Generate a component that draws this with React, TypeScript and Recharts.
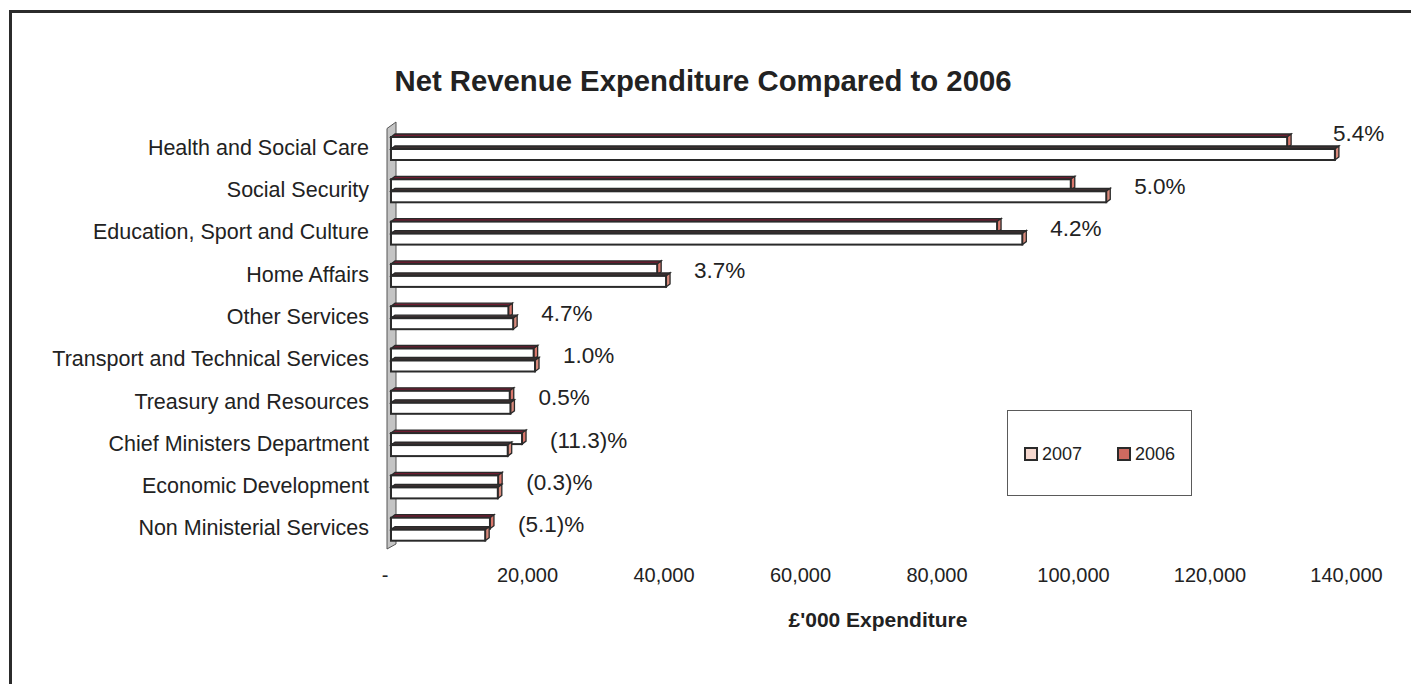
import React from "react";
import { BarChart, Bar, XAxis, YAxis, Legend, ReferenceArea, LabelList } from "recharts";

const categories = [
  "Health and Social Care",
  "Social Security",
  "Education, Sport and Culture",
  "Home Affairs",
  "Other Services",
  "Transport and Technical Services",
  "Treasury and Resources",
  "Chief Ministers Department",
  "Economic Development",
  "Non Ministerial Services",
];
const values2007 = [138300, 104800, 92500, 40300, 17900, 21100, 17500, 17100, 15650, 13800];
const values2006 = [131300, 99600, 88800, 39000, 17200, 20900, 17400, 19200, 15700, 14500];
const changeLabels = ["5.4%", "5.0%", "4.2%", "3.7%", "4.7%", "1.0%", "0.5%", "(11.3)%", "(0.3)%", "(5.1)%"];
const xTicks = [0, 20000, 40000, 60000, 80000, 100000, 120000, 140000];
const X_MAX = 140000;

const data = categories.map((name, i) => ({
  name,
  y2007: values2007[i],
  y2006: values2006[i],
  change: changeLabels[i],
}));

const FONT = '"Liberation Sans", Arial, Helvetica, sans-serif';
const DX = 4;
const DY = 3;

const make3DBar = (topFill: string, sideFill: string) => (props: any) => {
  const { x, y, width, height } = props;
  if (width == null || height == null) return <g />;
  const w = Math.max(width, 0);
  const stroke = "#2a2a2a";
  return (
    <g>
      <polygon
        points={`${x},${y + DY} ${x + DX},${y} ${x + w + DX},${y} ${x + w},${y + DY}`}
        fill={topFill}
        stroke={stroke}
        strokeWidth={1.3}
      />
      <polygon
        points={`${x + w},${y + DY} ${x + w + DX},${y} ${x + w + DX},${y + height - DY} ${x + w},${y + height}`}
        fill={sideFill}
        stroke={stroke}
        strokeWidth={1.3}
      />
      <rect x={x} y={y + DY} width={w} height={height - DY} fill="#ffffff" stroke={stroke} strokeWidth={2} />
    </g>
  );
};

const Wall = (props: any) => {
  const { x, y, height } = props;
  const l = x - 4;
  const r = x + 5;
  const pts = `${l},${y + 2.5} ${r},${y - 4} ${r},${y + height - 5} ${l},${y + height}`;
  return <polygon points={pts} fill="#c4c4c4" stroke="#555" strokeWidth={1} />;
};

const ChangeLabel = (props: any) => {
  const { x, y, width, index } = props;
  const v07 = values2007[index];
  const v06 = values2006[index];
  const pxPerUnit = width / v07;
  const end07 = x + width;
  const end06 = x + pxPerUnit * v06;
  const end = Math.max(end07, end06) + DX;
  const plotRight = x + pxPerUnit * X_MAX;
  const overflow = end + 24 + 50 > plotRight + 40;
  const lx = overflow ? end - 6 : end + 24;
  const ly = overflow ? y - 13 : y - 2;
  return (
    <text x={lx} y={ly} fontSize={22.5} fill="#222" fontFamily={FONT} dominantBaseline="central">
      {changeLabels[index]}
    </text>
  );
};

const XTick = (props: any) => {
  const { x, y, payload } = props;
  const v = payload.value;
  const label = v === 0 ? "-" : v.toLocaleString("en-US");
  return (
    <text
      x={v === 0 ? x - 6 : x}
      y={y}
      dy="0.71em"
      textAnchor="middle"
      fontSize={20}
      fill="#222"
      fontFamily={FONT}
    >
      {label}
    </text>
  );
};

const LegendBox = () => {
  const items = [
    { label: "2007", color: "#f6d8ce" },
    { label: "2006", color: "#cc6a60" },
  ];
  return (
    <div
      style={{
        width: 185,
        height: 86,
        boxSizing: "border-box",
        border: "1px solid #5a5a5a",
        background: "#fff",
        position: "relative",
        fontFamily: FONT,
        fontSize: 18,
        color: "#222",
      }}
    >
      {items.map((it, i) => (
        <div
          key={it.label}
          style={{
            position: "absolute",
            left: 16 + i * 93,
            top: 33,
            display: "flex",
            alignItems: "center",
            lineHeight: "20px",
          }}
        >
          <span
            style={{
              display: "inline-block",
              width: 10,
              height: 10,
              background: it.color,
              border: "2px solid #2a2a2a",
              marginRight: 4,
            }}
          />
          <span>{it.label}</span>
        </div>
      ))}
    </div>
  );
};

export default function App() {
  return (
    <div style={{ position: "relative", width: 1411, height: 676, overflow: "hidden", background: "#fff" }}>
      <div
        style={{
          position: "absolute",
          left: 1,
          top: 2,
          width: 3000,
          height: 3000,
          borderLeft: "3px solid #2b2b2b",
          borderTop: "3px solid #2b2b2b",
        }}
      />
      <div
        style={{
          position: "absolute",
          left: 695,
          top: 58,
          transform: "translateX(-50%)",
          fontFamily: FONT,
          fontWeight: "bold",
          fontSize: 29.3,
          lineHeight: 1,
          whiteSpace: "nowrap",
          color: "#222",
        }}
      >
        Net Revenue Expenditure Compared to 2006
      </div>
      <div
        style={{
          position: "absolute",
          left: 870,
          top: 601,
          transform: "translateX(-50%)",
          fontFamily: FONT,
          fontWeight: "bold",
          fontSize: 21,
          lineHeight: 1,
          whiteSpace: "nowrap",
          color: "#222",
        }}
      >
        £'000 Expenditure
      </div>
      <div style={{ position: "absolute", left: 0, top: 0 }}>
        <BarChart
          width={1411}
          height={676}
          data={data}
          layout="vertical"
          margin={{ top: 118, right: 72.5, bottom: 95, left: 0 }}
          barSize={14}
          barGap={-2}
        >
          <XAxis
            type="number"
            domain={[0, X_MAX]}
            ticks={xTicks}
            axisLine={false}
            tickLine={false}
            tickSize={0}
            tickMargin={19}
            height={40}
            interval={0}
            tick={<XTick />}
          />
          <YAxis
            type="category"
            dataKey="name"
            width={383}
            axisLine={false}
            tickLine={false}
            tickSize={0}
            tickMargin={22}
            interval={0}
            tick={{ fontSize: 21.5, fill: "#222", fontFamily: FONT }}
          />
          <ReferenceArea x1={0} x2={1} ifOverflow="visible" shape={<Wall />} />
          <Bar
            dataKey="y2006"
            name="2006"
            fill="#cc6a60"
            isAnimationActive={false}
            shape={make3DBar("#6e1c30", "#d9776c")}
          />
          <Bar
            dataKey="y2007"
            name="2007"
            fill="#f6d8ce"
            isAnimationActive={false}
            shape={make3DBar("#3b2f30", "#d88a7c")}
          >
            <LabelList dataKey="change" content={<ChangeLabel />} />
          </Bar>
          <Legend
            layout="horizontal"
            verticalAlign="middle"
            align="center"
            content={<LegendBox />}
            wrapperStyle={{ left: 999, top: 402, width: 185, height: 86 }}
          />
        </BarChart>
      </div>
    </div>
  );
}
